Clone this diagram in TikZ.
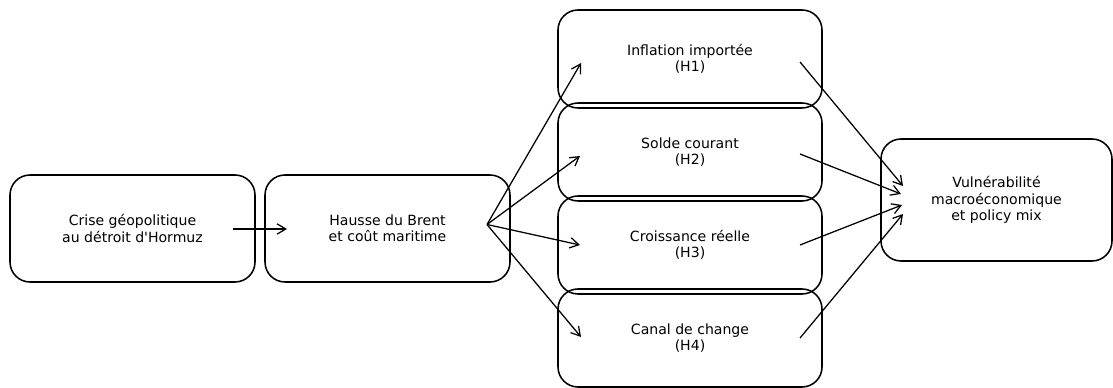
\documentclass[tikz,border=0pt]{standalone}
\usepackage{fontspec}
\setmainfont{DejaVu Sans}[Ligatures=TeXOff]
\usepackage{tikz}
\usetikzlibrary{arrows.meta, positioning, shapes}

\begin{document}
\begin{tikzpicture}[
	box/.style={draw, line width=1.1pt, rounded corners=0.5cm, align=center,
		inner sep=0pt, font=\fontsize{10}{11.6}\selectfont},
	wide/.style={box, minimum width=6.125cm, minimum height=2.675cm},
	hyp/.style={box, minimum width=6.6cm, minimum height=2.45cm},
	flow/.style={line width=0.9pt, -{Straight Barb[length=2.2mm, width=2.6mm, line width=0.9pt]}}
]

\useasboundingbox (0,0) rectangle (27.825,9.7);

\node [wide] (crise) at (3.3125,3.9875) {
	Crise géopolitique \\
	au détroit d'Hormuz
};

\node [wide] (brent) at (9.6875,3.9875) {
	Hausse du Brent \\
	et coût maritime
};

\node [hyp] (h1) at (17.25,8.225) {
	Inflation importée \\
	(H1)
};

\node [hyp] (h2) at (17.25,5.9) {
	Solde courant \\
	(H2)
};

\node [hyp] (h3) at (17.25,3.575) {
	Croissance réelle \\
	(H3)
};

\node [hyp] (h4) at (17.25,1.25) {
	Canal de change \\
	(H4)
};

\node [box, minimum width=5.775cm, minimum height=3.05cm] (vuln) at (24.9125,4.7) {
	Vulnérabilité \\
	macroéconomique \\
	et policy mix
};

% arrow ends inside the boxes
\coordinate (crise out) at (5.825,3.975);
\coordinate (brent in) at (7.175,3.975);
\coordinate (brent out) at (12.175,4.0875);
\coordinate (h1 in) at (14.525,8.125);
\coordinate (h2 in) at (14.5,5.8);
\coordinate (h3 in) at (14.5,3.575);
\coordinate (h4 in) at (14.525,1.275);
\coordinate (h1 out) at (20.0,8.15);
\coordinate (h2 out) at (20.0,5.85);
\coordinate (h3 out) at (20.0,3.575);
\coordinate (h4 out) at (20.0,1.25);
\coordinate (vuln in1) at (22.575,5.05);
\coordinate (vuln in2) at (22.525,4.85);
\coordinate (vuln in3) at (22.55,4.575);
\coordinate (vuln in4) at (22.575,4.35);

\draw [flow] (crise out) -- (brent in);
\draw [flow] (brent out) -- (h1 in);
\draw [flow] (brent out) -- (h2 in);
\draw [flow] (brent out) -- (h3 in);
\draw [flow] (brent out) -- (h4 in);
\draw [flow] (h1 out) -- (vuln in1);
\draw [flow] (h2 out) -- (vuln in2);
\draw [flow] (h3 out) -- (vuln in3);
\draw [flow] (h4 out) -- (vuln in4);

\end{tikzpicture}
\end{document}
